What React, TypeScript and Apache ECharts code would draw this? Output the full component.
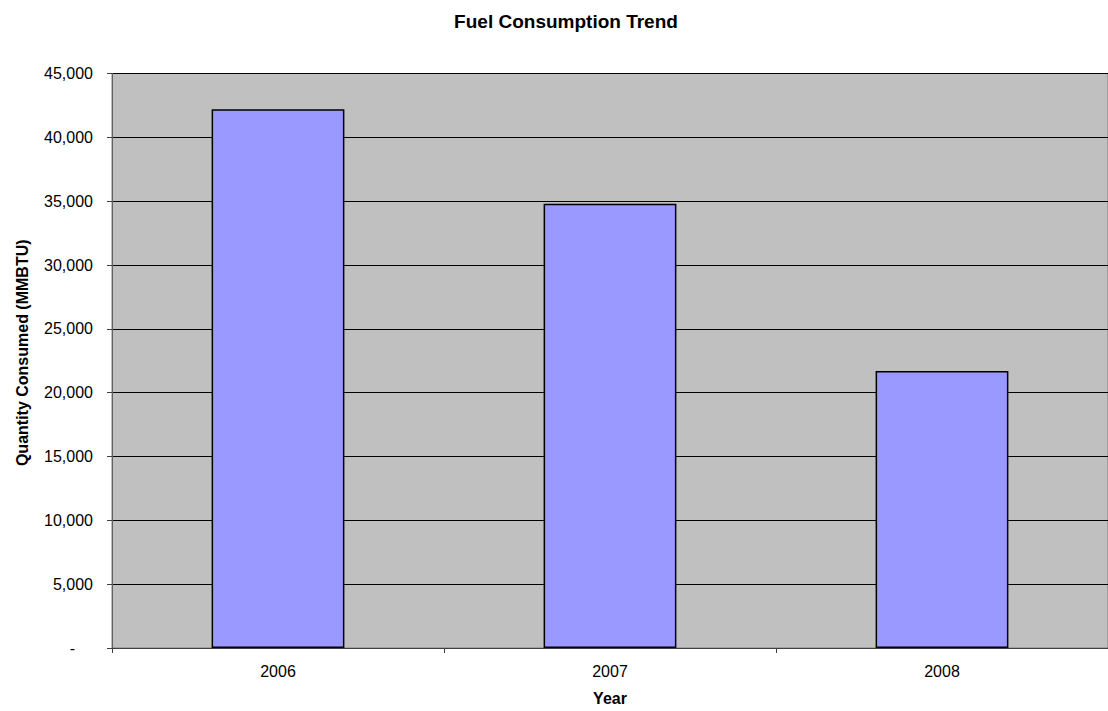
import React, { useEffect, useRef } from "react";
import * as echarts from "echarts";

const categories = ["2006", "2007", "2008"];
const consumption = [42200, 34800, 21700];
const yTicks = { min: 0, max: 45000, interval: 5000 };

const FONT = "Arial, 'Liberation Sans', sans-serif";

export default function App() {
  const ref = useRef<HTMLDivElement>(null);
  useEffect(() => {
    if (!ref.current) return;
    const chart = echarts.init(ref.current, null, { renderer: "svg" });
    chart.setOption({
      animation: false,
      backgroundColor: "#ffffff",
      title: {
        text: "Fuel Consumption Trend",
        left: 561,
        top: 7,
        textAlign: "center",
        textStyle: { fontFamily: FONT, fontSize: 19, fontWeight: "bold", color: "#000" },
      },
      grid: {
        left: 112,
        top: 73.5,
        width: 1004,
        height: 575.5,
        show: true,
        backgroundColor: "#c0c0c0",
        borderColor: "#808080",
        borderWidth: 1,
      },
      xAxis: {
        type: "category",
        data: categories,
        boundaryGap: true,
        name: "Year",
        nameLocation: "middle",
        nameGap: 42,
        nameTextStyle: { fontFamily: FONT, fontSize: 16, fontWeight: "bold", color: "#000" },
        axisLine: { show: true, lineStyle: { color: "#404040", width: 1 } },
        axisTick: { show: true, length: 5, inside: false, alignWithLabel: false, lineStyle: { color: "#404040" } },
        axisLabel: { fontFamily: FONT, fontSize: 16, color: "#000", margin: 15 },
        splitLine: { show: false },
      },
      yAxis: {
        type: "value",
        min: yTicks.min,
        max: yTicks.max,
        interval: yTicks.interval,
        name: "Quantity Consumed (MMBTU)",
        nameLocation: "middle",
        nameRotate: 90,
        nameGap: 82,
        nameTextStyle: {
          fontFamily: FONT,
          fontSize: 16,
          fontWeight: "bold",
          color: "#000",
          padding: [0, 0, 0, 16],
        },
        axisLine: { show: true, lineStyle: { color: "#606060", width: 1 } },
        axisTick: { show: true, length: 5, inside: false, lineStyle: { color: "#404040" } },
        axisLabel: {
          fontFamily: FONT,
          fontSize: 16,
          color: "#000",
          margin: 19,
          formatter: (v: number) => (v === 0 ? "{z|-}" : v.toLocaleString("en-US")),
          rich: {
            z: { fontFamily: FONT, fontSize: 16, color: "#000", padding: [0, 18, 0, 0] },
          },
        },
        splitLine: { show: true, lineStyle: { color: "#000", width: 1 } },
      },
      series: [
        {
          type: "bar",
          data: consumption,
          barWidth: "40%",
          itemStyle: { color: "#9999ff", borderColor: "#000", borderWidth: 1.5 },
          z: 3,
        },
      ],
    });
    return () => chart.dispose();
  }, []);
  return (
    <div
      ref={ref}
      style={{ position: "absolute", left: 0, top: 0, width: 1108, height: 711 }}
    />
  );
}
